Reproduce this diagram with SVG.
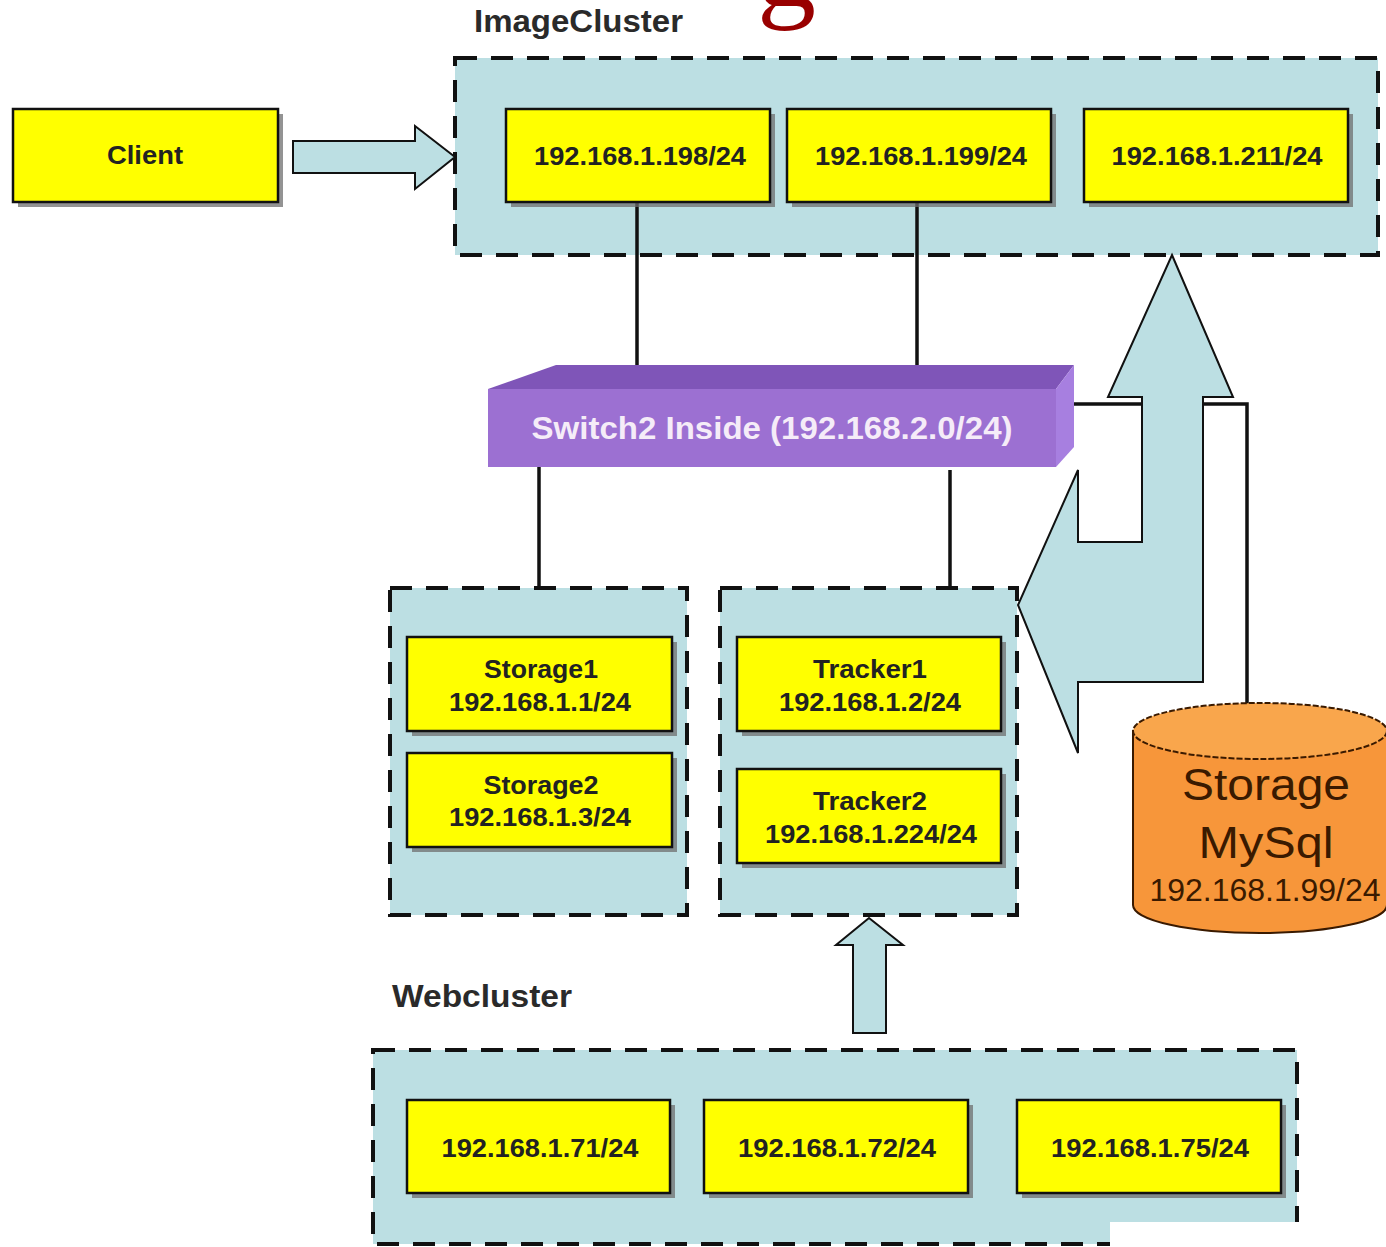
<svg xmlns="http://www.w3.org/2000/svg" width="1386" height="1247" viewBox="0 0 1386 1247">
<style>
.cluster{fill:#bcdfe3;stroke:#111;stroke-width:4;stroke-dasharray:22 14}
.box{fill:#ffff00;stroke:#111;stroke-width:2.5}
.shadow{fill:#6f6f6f;opacity:0.75}
.ip{font-family:"Liberation Sans",Arial,sans-serif;font-weight:bold;font-size:25px;fill:#222;text-anchor:middle}
.lbl{font-family:"Liberation Sans",Arial,sans-serif;font-weight:bold;font-size:31px;fill:#2a2a2a}
.wire{stroke:#111;stroke-width:3.5;fill:none}
.barrow{fill:#bcdfe3;stroke:#111;stroke-width:2}
</style>
<rect width="1386" height="1247" fill="#ffffff"/>
<text x="757" y="6" font-family="'Liberation Serif',serif" font-size="118" fill="#990000">g</text>

<g id="imagecluster">
<rect class="cluster" x="455" y="58" width="923" height="197"/>
<text class="lbl" x="474" y="32" textLength="209" lengthAdjust="spacingAndGlyphs">ImageCluster</text>
</g>

<g id="connectors">
<line class="wire" x1="637" y1="202" x2="637" y2="368"/>
<line class="wire" x1="917" y1="202" x2="917" y2="368"/>
<line class="wire" x1="539" y1="467" x2="539" y2="589"/>
<line class="wire" x1="950" y1="470" x2="950" y2="589"/>
<polyline class="wire" points="1066,404 1247,404 1247,704"/>
<polygon class="barrow" points="293,141 415,141 415,126 455,157 415,189 415,173 293,173"/>
<polygon class="barrow" points="1172,255 1233,397 1203,397 1203,682 1078,682 1078,753 1018,605 1078,470 1078,542 1142,542 1142,397 1108,397"/>
<polygon class="barrow" points="869,918 903,945 886,945 886,1033 853,1033 853,945 836,945"/>
</g>

<g id="client">
<rect class="shadow" x="18" y="114" width="265" height="93"/>
<rect class="box" x="13" y="109" width="265" height="93"/>
<text class="ip" x="145" y="164" textLength="76" lengthAdjust="spacingAndGlyphs">Client</text>
</g>

<g id="ic-198">
<rect class="shadow" x="511" y="114" width="264" height="93"/>
<rect class="box" x="506" y="109" width="264" height="93"/>
<text class="ip" x="640" y="165" textLength="212" lengthAdjust="spacingAndGlyphs">192.168.1.198/24</text>
</g>
<g id="ic-199">
<rect class="shadow" x="792" y="114" width="264" height="93"/>
<rect class="box" x="787" y="109" width="264" height="93"/>
<text class="ip" x="921" y="165" textLength="212" lengthAdjust="spacingAndGlyphs">192.168.1.199/24</text>
</g>
<g id="ic-211">
<rect class="shadow" x="1089" y="114" width="264" height="93"/>
<rect class="box" x="1084" y="109" width="264" height="93"/>
<text class="ip" x="1217" y="165" textLength="211" lengthAdjust="spacingAndGlyphs">192.168.1.211/24</text>
</g>

<g id="switch">
<polygon points="488,389 556,365 1074,365 1056,389" fill="#7f55b8"/>
<polygon points="1056,389 1074,365 1074,447 1056,467" fill="#a77fe0"/>
<rect x="488" y="389" width="568" height="78" fill="#9c70d2"/>
<text x="772" y="439" font-family="'Liberation Sans',Arial,sans-serif" font-weight="bold" font-size="31" fill="#f5ecf8" text-anchor="middle" textLength="481" lengthAdjust="spacingAndGlyphs">Switch2 Inside (192.168.2.0/24)</text>
</g>

<g id="storagecluster">
<rect class="cluster" x="390" y="588" width="297" height="327"/>
</g>
<g id="storage1">
<rect class="shadow" x="412" y="642" width="265" height="94"/>
<rect class="box" x="407" y="637" width="265" height="94"/>
<text class="ip" x="541" y="678" textLength="114" lengthAdjust="spacingAndGlyphs">Storage1</text>
<text class="ip" x="540" y="711" textLength="182" lengthAdjust="spacingAndGlyphs">192.168.1.1/24</text>
</g>
<g id="storage2">
<rect class="shadow" x="412" y="758" width="265" height="94"/>
<rect class="box" x="407" y="753" width="265" height="94"/>
<text class="ip" x="541" y="794" textLength="115" lengthAdjust="spacingAndGlyphs">Storage2</text>
<text class="ip" x="540" y="826" textLength="182" lengthAdjust="spacingAndGlyphs">192.168.1.3/24</text>
</g>

<g id="trackercluster">
<rect class="cluster" x="720" y="588" width="297" height="327"/>
</g>
<g id="tracker1">
<rect class="shadow" x="742" y="642" width="264" height="94"/>
<rect class="box" x="737" y="637" width="264" height="94"/>
<text class="ip" x="870" y="678" textLength="114" lengthAdjust="spacingAndGlyphs">Tracker1</text>
<text class="ip" x="870" y="711" textLength="182" lengthAdjust="spacingAndGlyphs">192.168.1.2/24</text>
</g>
<g id="tracker2">
<rect class="shadow" x="742" y="774" width="264" height="94"/>
<rect class="box" x="737" y="769" width="264" height="94"/>
<text class="ip" x="870" y="810" textLength="114" lengthAdjust="spacingAndGlyphs">Tracker2</text>
<text class="ip" x="871" y="843" textLength="212" lengthAdjust="spacingAndGlyphs">192.168.1.224/24</text>
</g>

<g id="mysql">
<path d="M1133,731 L1133,905 A127,28 0 0 0 1387,905 L1387,731 Z" fill="#f7963a" stroke="#3a1a00" stroke-width="2"/>
<ellipse cx="1260" cy="731" rx="127" ry="28" fill="#f9a64c" stroke="#3a1a00" stroke-width="2" stroke-dasharray="6 2"/>
<text x="1266" y="800" font-family="'Liberation Sans',Arial,sans-serif" font-size="44" fill="#3a1a00" text-anchor="middle" textLength="168" lengthAdjust="spacingAndGlyphs">Storage</text>
<text x="1266" y="858" font-family="'Liberation Sans',Arial,sans-serif" font-size="44" fill="#3a1a00" text-anchor="middle" textLength="135" lengthAdjust="spacingAndGlyphs">MySql</text>
<text x="1265" y="901" font-family="'Liberation Sans',Arial,sans-serif" font-size="32" fill="#3a1a00" text-anchor="middle" textLength="231" lengthAdjust="spacingAndGlyphs">192.168.1.99/24</text>
</g>

<g id="webcluster">
<text class="lbl" x="392" y="1007" textLength="180" lengthAdjust="spacingAndGlyphs">Webcluster</text>
<rect class="cluster" x="373" y="1050" width="924" height="194"/>
</g>
<g id="web-71">
<rect class="shadow" x="412" y="1105" width="263" height="93"/>
<rect class="box" x="407" y="1100" width="263" height="93"/>
<text class="ip" x="540" y="1157" textLength="197" lengthAdjust="spacingAndGlyphs">192.168.1.71/24</text>
</g>
<g id="web-72">
<rect class="shadow" x="709" y="1105" width="264" height="93"/>
<rect class="box" x="704" y="1100" width="264" height="93"/>
<text class="ip" x="837" y="1157" textLength="198" lengthAdjust="spacingAndGlyphs">192.168.1.72/24</text>
</g>
<g id="web-75">
<rect class="shadow" x="1022" y="1105" width="264" height="93"/>
<rect class="box" x="1017" y="1100" width="264" height="93"/>
<text class="ip" x="1150" y="1157" textLength="198" lengthAdjust="spacingAndGlyphs">192.168.1.75/24</text>
</g>
<rect x="1110" y="1222" width="276" height="25" fill="#ffffff"/>
</svg>
